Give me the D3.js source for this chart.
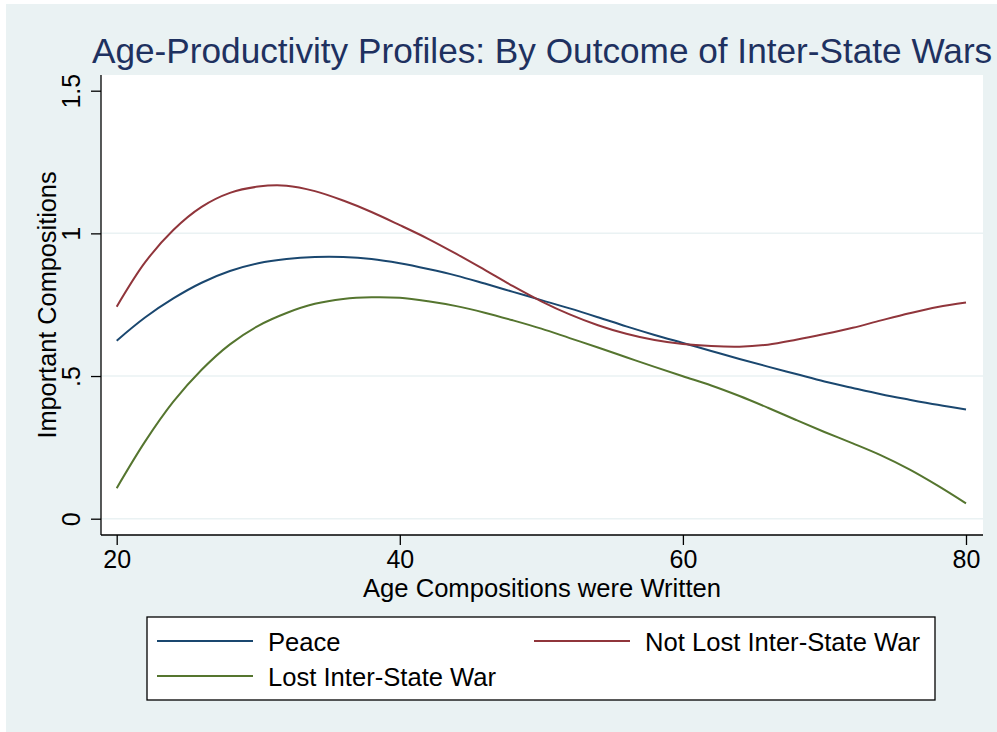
<!DOCTYPE html>
<html>
<head>
<meta charset="utf-8">
<script src="https://cdn.jsdelivr.net/npm/d3@7"></script>
<style>
  body { margin: 0; background: #fff; }
  text { font-family: "Liberation Sans", Arial, sans-serif; }
</style>
</head>
<body>
<script>
// chart size
var width = 997,
	height = 732;

// ages the fitted profiles are read at
var ages = [20, 22, 24, 26, 28, 30, 32, 34, 36, 38, 40, 42, 44, 46, 48, 50,
	52, 54, 56, 58, 60, 62, 64, 66, 68, 70, 72, 74, 76, 78, 80];

// series values (important compositions)
var peace = [0.624, 0.705, 0.772, 0.827, 0.868, 0.895, 0.910, 0.917, 0.917, 0.910, 0.895,
	0.875, 0.852, 0.824, 0.795, 0.766, 0.737, 0.706, 0.674, 0.644, 0.616,
	0.588, 0.560, 0.533, 0.507, 0.481, 0.458, 0.436, 0.417, 0.399, 0.383];
var notLost = [0.743, 0.898, 1.012, 1.093, 1.142, 1.164, 1.167, 1.148, 1.115, 1.075, 1.029,
	0.981, 0.928, 0.872, 0.815, 0.762, 0.716, 0.678, 0.648, 0.626, 0.612,
	0.605, 0.603, 0.610, 0.627, 0.647, 0.669, 0.695, 0.720, 0.742, 0.758];
var lost = [0.107, 0.270, 0.410, 0.522, 0.611, 0.676, 0.721, 0.753, 0.770, 0.776, 0.774,
	0.762, 0.745, 0.722, 0.695, 0.666, 0.633, 0.600, 0.566, 0.532, 0.499,
	0.467, 0.430, 0.389, 0.346, 0.304, 0.264, 0.222, 0.173, 0.116, 0.054];

// tick values and their labels
var xTicks = [20, 40, 60, 80];
var yTicks = [0, 0.5, 1, 1.5];
var yTickLabels = ['0', '.5', '1', '1.5'];

var seriesNames = ['Peace', 'Not Lost Inter-State War', 'Lost Inter-State War'];
var seriesColors = ['#1a476f', '#90353b', '#55752f'];
var seriesValues = [peace, notLost, lost];

var bgColor = '#eaf2f3';

// plot region in pixels
var plot = { left: 101, right: 983, top: 75, bottom: 535 };

var x = d3.scaleLinear()
	.domain([20, 80])
	.range([116.7, 966]);

var y = d3.scaleLinear()
	.domain([0, 1.5])
	.range([518.7, 90.7]);

var svg = d3.select('body')
	.append('svg')
	.attr('width', width)
	.attr('height', height);

// outer background
svg.append('rect')
	.attr('x', 6)
	.attr('y', 4)
	.attr('width', width - 6)
	.attr('height', height - 4)
	.attr('fill', bgColor);

// plot region
svg.append('rect')
	.attr('x', plot.left)
	.attr('y', plot.top)
	.attr('width', plot.right - plot.left)
	.attr('height', plot.bottom - plot.top)
	.attr('fill', '#fff');

// gridlines
svg.append('g')
	.selectAll('line')
	.data(yTicks.slice(0, 3))
	.enter().append('line')
	.attr('x1', plot.left)
	.attr('x2', plot.right)
	.attr('y1', function(d) { return y(d); })
	.attr('y2', function(d) { return y(d); })
	.attr('stroke', bgColor)
	.attr('stroke-width', 1.5);

// title
svg.append('text')
	.attr('x', 92)
	.attr('y', 63)
	.attr('font-size', 35.2)
	.attr('fill', '#1e3160')
	.text('Age-Productivity Profiles: By Outcome of Inter-State Wars');

// series lines
var line = d3.line()
	.x(function(d, i) { return x(ages[i]); })
	.y(function(d) { return y(d); })
	.curve(d3.curveCatmullRom.alpha(0.5));

svg.append('g')
	.selectAll('path')
	.data(seriesValues)
	.enter().append('path')
	.attr('d', line)
	.attr('fill', 'none')
	.attr('stroke', function(d, i) { return seriesColors[i]; })
	.attr('stroke-width', 2);

// x axis
var xAxis = d3.axisBottom(x)
	.tickValues(xTicks)
	.tickSize(10)
	.tickSizeOuter(0)
	.tickPadding(5);

var gx = svg.append('g')
	.attr('transform', 'translate(0,' + plot.bottom + ')')
	.call(xAxis);
gx.select('.domain').attr('d', 'M' + plot.left + ',0H' + plot.right);
gx.selectAll('path, line').attr('stroke', '#000').attr('stroke-width', 1.3);
gx.selectAll('text')
	.attr('font-size', 25)
	.attr('font-family', '"Liberation Sans", Arial, sans-serif')
	.attr('fill', '#000');

// y axis with rotated labels
var yAxis = d3.axisLeft(y)
	.tickValues(yTicks)
	.tickFormat(function(d, i) { return yTickLabels[i]; })
	.tickSize(10)
	.tickSizeOuter(0);

var gy = svg.append('g')
	.attr('transform', 'translate(' + plot.left + ',0)')
	.call(yAxis);
gy.select('.domain').attr('d', 'M0,' + plot.top + 'V' + plot.bottom);
gy.selectAll('path, line').attr('stroke', '#000').attr('stroke-width', 1.3);
gy.selectAll('.tick text')
	.attr('x', null)
	.attr('dy', null)
	.attr('transform', 'translate(-21,0) rotate(-90)')
	.attr('text-anchor', 'middle')
	.attr('font-size', 25)
	.attr('font-family', '"Liberation Sans", Arial, sans-serif')
	.attr('fill', '#000');

// axis titles
svg.append('text')
	.attr('x', (plot.left + plot.right) / 2)
	.attr('y', 597)
	.attr('text-anchor', 'middle')
	.attr('font-size', 25.6)
	.attr('fill', '#000')
	.text('Age Compositions were Written');

svg.append('text')
	.attr('transform', 'translate(56,' + ((plot.top + plot.bottom) / 2) + ') rotate(-90)')
	.attr('text-anchor', 'middle')
	.attr('font-size', 25.3)
	.attr('fill', '#000')
	.text('Important Compositions');

// legend
var legend = svg.append('g');
legend.append('rect')
	.attr('x', 147)
	.attr('y', 617)
	.attr('width', 788)
	.attr('height', 83)
	.attr('fill', '#fff')
	.attr('stroke', '#000')
	.attr('stroke-width', 1.3);

var legendPos = [[157, 641], [534, 641], [157, 676]];

var item = legend.selectAll('.item')
	.data(seriesNames)
	.enter().append('g')
	.attr('class', 'item')
	.attr('transform', function(d, i) { return 'translate(' + legendPos[i][0] + ',' + legendPos[i][1] + ')'; });

item.append('line')
	.attr('x1', 0)
	.attr('x2', 96)
	.attr('stroke', function(d, i) { return seriesColors[i]; })
	.attr('stroke-width', 2);

item.append('text')
	.attr('x', 111)
	.attr('y', 9.5)
	.attr('font-size', 25.6)
	.attr('fill', '#000')
	.text(function(d) { return d; });
</script>
</body>
</html>
